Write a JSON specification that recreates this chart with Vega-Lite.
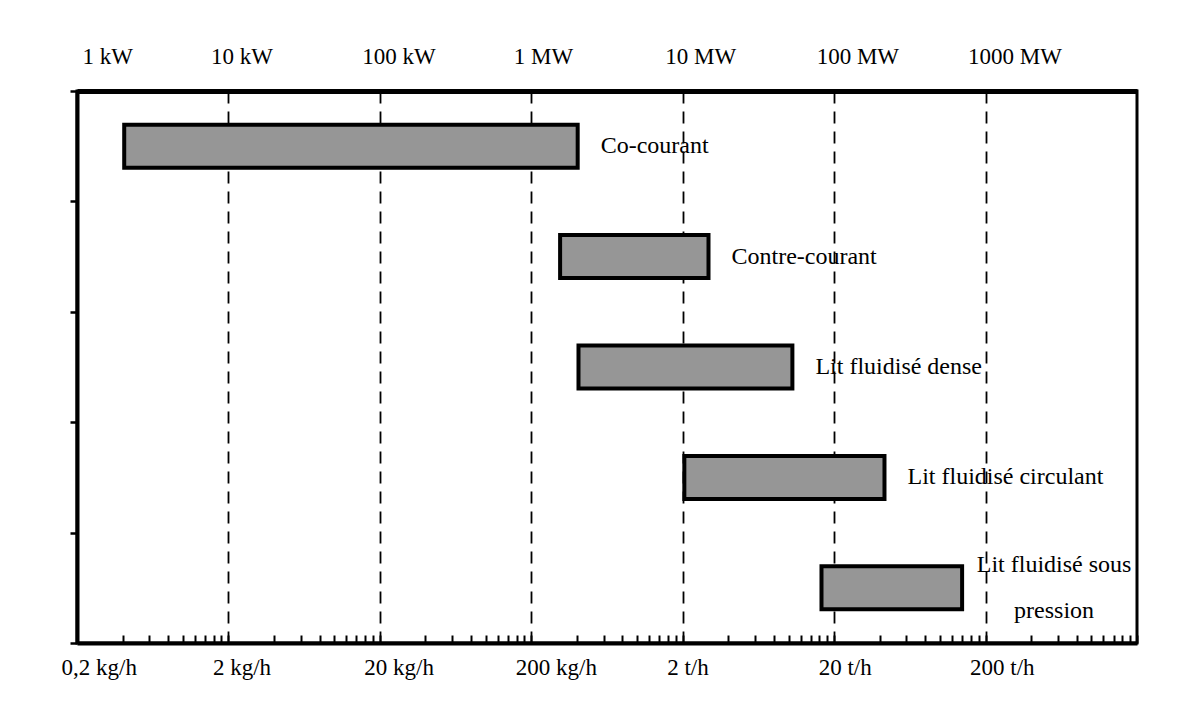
{
  "$schema": "https://vega.github.io/schema/vega-lite/v6.json",
  "width": 1060,
  "height": 552,
  "autosize": {"type": "none"},
  "padding": {"left": 77, "top": 91, "right": 50, "bottom": 69},
  "background": "white",
  "config": {
    "view": {"stroke": "black", "strokeWidth": 3},
    "font": "Liberation Serif, Times New Roman, DejaVu Serif, serif",
    "text": {"font": "Liberation Serif, Times New Roman, DejaVu Serif, serif"},
    "axis": {"labelColor": "black", "domainColor": "black", "tickColor": "black", "labelFont": "Liberation Serif, Times New Roman, DejaVu Serif, serif"}
  },
  "data": {
    "values": [
      {"tech": "Co-courant", "label": "Co-courant", "min": 0.41, "max": 405},
      {"tech": "Contre-courant", "label": "Contre-courant", "min": 310, "max": 2960},
      {"tech": "Lit fluidisé dense", "label": "Lit fluidisé dense", "min": 410, "max": 10600},
      {"tech": "Lit fluidisé circulant", "label": "Lit fluidisé circulant", "min": 2050, "max": 43000},
      {"tech": "Lit fluidisé sous pression", "label": "Lit fluidisé sous\npression", "min": 16500, "max": 140000}
    ]
  },
  "encoding": {
    "y": {
      "field": "tech",
      "type": "nominal",
      "sort": null,
      "scale": {"paddingInner": 0, "paddingOuter": 0},
      "axis": {"labels": false, "title": null, "tickBand": "extent", "tickSize": 7, "tickWidth": 2.5, "domainWidth": 4, "grid": false}
    }
  },
  "layer": [
    {
      "mark": {"type": "bar", "height": 43, "fill": "#969696", "stroke": "black", "strokeWidth": 4},
      "encoding": {
        "x": {
          "field": "min",
          "type": "quantitative",
          "scale": {"type": "log", "domain": [0.2, 2000000], "nice": false},
          "axis": {
            "orient": "bottom",
            "title": null,
            "values": [0.2, 0.4, 0.6, 0.8, 1, 1.2, 1.4, 1.6, 1.8, 2, 4, 6, 8, 10, 12, 14, 16, 18, 20, 40, 60, 80, 100, 120, 140, 160, 180, 200, 400, 600, 800, 1000, 1200, 1400, 1600, 1800, 2000, 4000, 6000, 8000, 10000, 12000, 14000, 16000, 18000, 20000, 40000, 60000, 80000, 100000, 120000, 140000, 160000, 180000, 200000, 400000, 600000, 800000, 1000000, 1200000, 1400000, 1600000, 1800000, 2000000],
            "labelExpr": "datum.value==0.2?'0,2 kg/h':datum.value==2?'2 kg/h':datum.value==20?'20 kg/h':datum.value==200?'200 kg/h':datum.value==2000?'2 t/h':datum.value==20000?'20 t/h':datum.value==200000?'200 t/h':''",
            "grid": true,
            "gridColor": "black",
            "gridDash": [12, 8],
            "gridWidth": 1.8,
            "gridOpacity": {"condition": {"test": "indexof([2,20,200,2000,20000,200000], datum.value) >= 0", "value": 1}, "value": 0},
            "tickSize": -8,
            "tickWidth": 2,
            "domainWidth": 4,
            "labelFontSize": 23,
            "labelAlign": "left",
            "labelOffset": -16,
            "labelPadding": 21,
            "labelBound": false,
            "labelOverlap": false,
            "labelFlush": false
          }
        },
        "x2": {"field": "max"}
      }
    },
    {
      "transform": [{"filter": "datum.tech != 'Lit fluidisé sous pression'"}],
      "mark": {"type": "text", "align": "left", "baseline": "middle", "dx": 23, "fontSize": 24, "color": "black", "font": "Liberation Serif, Times New Roman, DejaVu Serif, serif"},
      "encoding": {
        "x": {
          "field": "max",
          "type": "quantitative",
          "scale": {"type": "log", "domain": [0.2, 2000000], "nice": false},
          "axis": {
            "orient": "top",
            "title": null,
            "values": [0.2, 2, 20, 200, 2000, 20000, 200000],
            "labelExpr": "datum.value==0.2?'1 kW':datum.value==2?'10 kW':datum.value==20?'100 kW':datum.value==200?'1 MW':datum.value==2000?'10 MW':datum.value==20000?'100 MW':datum.value==200000?'1000 MW':''",
            "ticks": false,
            "grid": false,
            "domainWidth": 5,
            "labelFontSize": 23,
            "labelAlign": "left",
            "labelOffset": {"condition": {"test": "datum.value==0.2", "value": 5}, "value": -18},
            "labelPadding": 23,
            "labelFlush": false,
            "labelOverlap": false,
            "labelBound": false
          }
        },
        "text": {"field": "label"}
      }
    },
    {
      "transform": [{"filter": "datum.tech == 'Lit fluidisé sous pression'"}],
      "mark": {"type": "text", "align": "center", "baseline": "middle", "dx": 92, "dy": -23, "fontSize": 24, "lineBreak": "\n", "lineHeight": 46, "color": "black", "font": "Liberation Serif, Times New Roman, DejaVu Serif, serif"},
      "encoding": {
        "x": {"field": "max", "type": "quantitative", "scale": {"type": "log", "domain": [0.2, 2000000], "nice": false}, "axis": null},
        "text": {"field": "label"}
      }
    }
  ],
  "resolve": {"axis": {"x": "independent"}}
}
